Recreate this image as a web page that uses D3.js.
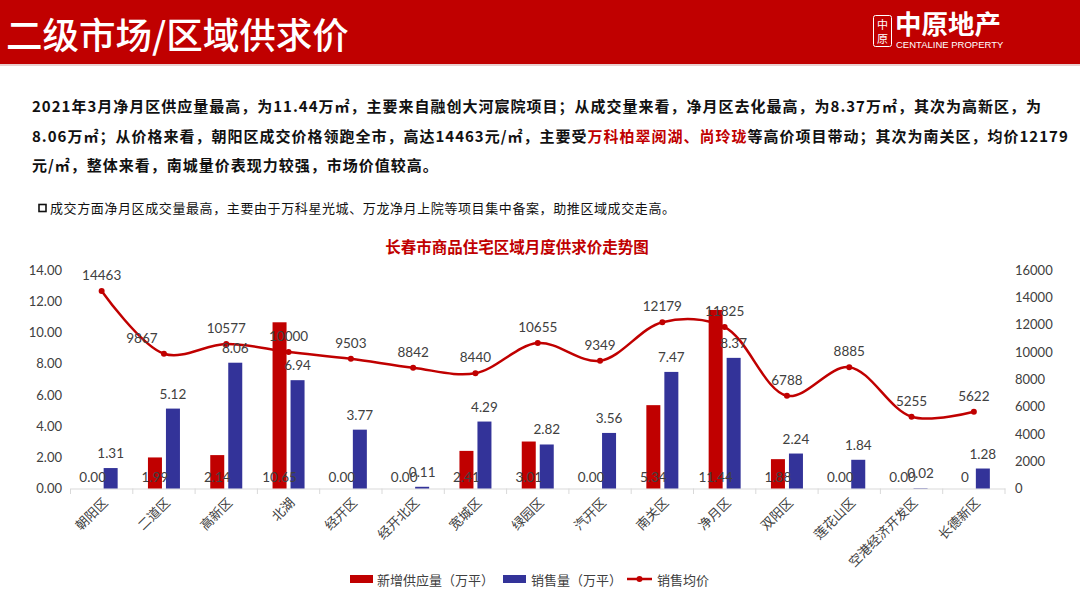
<!DOCTYPE html>
<html><head><meta charset="utf-8">
<script src="https://cdn.jsdelivr.net/npm/d3@7/dist/d3.min.js"></script>
<style>
html,body{margin:0;padding:0;background:#fff;}
svg{display:block;}
</style></head>
<body>
<svg id="c" width="1080" height="608"></svg>
<script>
const categories = ["朝阳区","二道区","高新区","北湖","经开区","经开北区","宽城区","绿园区","汽开区","南关区","净月区","双阳区","莲花山区","空港经济开发区","长德新区"];
const supply = [0, 1.99, 2.14, 10.65, 0, 0, 2.41, 3.01, 0, 5.34, 11.44, 1.88, 0, 0, 0];
const supplyLabels = ["0.00","1.99","2.14","10.65","0.00","0.00","2.41","3.01","0.00","5.34","11.44","1.88","0.00","0.00","0"];
const sales = [1.31, 5.12, 8.06, 6.94, 3.77, 0.11, 4.29, 2.82, 3.56, 7.47, 8.37, 2.24, 1.84, 0.02, 1.28];
const price = [14463, 9867, 10577, 10000, 9503, 8842, 8440, 10655, 9349, 12179, 11825, 6788, 8885, 5255, 5622];
const leftTicks = [0, 2, 4, 6, 8, 10, 12, 14];
const rightTicks = [0, 2000, 4000, 6000, 8000, 10000, 12000, 14000, 16000];
const seriesNames = ["新增供应量（万平）", "销售量（万平）", "销售均价"];

const RED = "#C00000", BLUE = "#333399", TXT = "#404040";
const CJK = "'Noto Sans CJK SC','Noto Sans',sans-serif";
const NUM = "Lato,'Noto Sans',sans-serif";

const svg = d3.select("#c");

// Header
svg.append("rect").attr("x",0).attr("y",0).attr("width",1080).attr("height",64).attr("fill",RED);
svg.append("rect").attr("x",0).attr("y",64).attr("width",1080).attr("height",2).attr("fill","#e8cfcf");
svg.append("text").attr("x",6).attr("y",49).attr("fill","#fff")
  .style("font-family",CJK).style("font-size","36.5px").style("font-weight",500)
  .text("二级市场/区域供求价");
// Logo
svg.append("rect").attr("x",873.5).attr("y",15.5).attr("width",18).attr("height",31).attr("rx",2)
  .attr("fill","none").attr("stroke","#fff").attr("stroke-width",1);
svg.append("text").attr("x",882.5).attr("y",29).attr("text-anchor","middle").attr("fill","#fff")
  .style("font-family",CJK).style("font-size","11px").text("中");
svg.append("text").attr("x",882.5).attr("y",43).attr("text-anchor","middle").attr("fill","#fff")
  .style("font-family",CJK).style("font-size","11px").text("原");
svg.append("text").attr("x",895).attr("y",34).attr("fill","#fff")
  .style("font-family",CJK).style("font-size","26.5px").style("font-weight",700).text("中原地产");
svg.append("text").attr("x",896).attr("y",48).attr("fill","#fff")
  .style("font-family","'Liberation Sans',Arial,sans-serif").style("font-size","9.5px").text("CENTALINE PROPERTY");

// Body text
const body = svg.append("g").style("font-family",CJK).style("font-size","15px").style("font-weight",700)
  .style("letter-spacing","1px").attr("fill","#111");
body.append("text").attr("x",32).attr("y",112)
  .text("2021年3月净月区供应量最高，为11.44万㎡，主要来自融创大河宸院项目；从成交量来看，净月区去化最高，为8.37万㎡，其次为高新区，为");
const l2 = body.append("text").attr("x",32).attr("y",142);
l2.append("tspan").text("8.06万㎡；从价格来看，朝阳区成交价格领跑全市，高达14463元/㎡，主要受");
l2.append("tspan").attr("fill",RED).text("万科柏翠阅湖、尚玲珑");
l2.append("tspan").text("等高价项目带动；其次为南关区，均价12179");
body.append("text").attr("x",32).attr("y",171).text("元/㎡，整体来看，南城量价表现力较强，市场价值较高。");

svg.append("rect").attr("x",39).attr("y",204.5).attr("width",7).attr("height",7)
  .attr("fill","none").attr("stroke","#111").attr("stroke-width",1.6);
svg.append("text").attr("x",50).attr("y",213).attr("fill","#111")
  .style("font-family",CJK).style("font-size","13px").style("letter-spacing","0.6px")
  .text("成交方面净月区成交量最高，主要由于万科星光城、万龙净月上院等项目集中备案，助推区域成交走高。");

// Chart title
svg.append("text").attr("x",517).attr("y",253).attr("text-anchor","middle").attr("fill",RED)
  .style("font-family",CJK).style("font-size","15.5px").style("font-weight",700)
  .text("长春市商品住宅区域月度供求价走势图");

// Scales
const x = d3.scaleBand().domain(categories).range([70.5, 1005]).padding(0);
const yL = d3.scaleLinear().domain([0,14]).range([488.5, 270]);
const yR = d3.scaleLinear().domain([0,16000]).range([488.5, 270]);
const bw = 14, off = 9;
const cx = d => x(d) + x.bandwidth()/2;

// Left axis
const gl = svg.append("g").attr("transform","translate(65,0)")
  .call(d3.axisLeft(yL).tickValues(leftTicks).tickFormat(d3.format(".2f")).tickSize(0).tickPadding(3));
gl.select(".domain").remove();
gl.selectAll("text").style("font-family",NUM).style("font-size","13px").attr("fill",TXT);

// Right axis
const gr = svg.append("g").attr("transform","translate(1010,0)")
  .call(d3.axisRight(yR).tickValues(rightTicks).tickSize(0).tickPadding(5).tickFormat(d3.format("d")));
gr.select(".domain").remove();
gr.selectAll("text").style("font-family",NUM).style("font-size","13px").attr("fill",TXT);

// X axis
const gx = svg.append("g").attr("transform","translate(0,488.5)")
  .call(d3.axisBottom(x).tickSize(0).tickPadding(0));
gx.select(".domain").attr("stroke","#d9d9d9");
gx.selectAll(".tick text")
  .style("font-family",CJK).style("font-size","13px").attr("fill",TXT)
  .attr("text-anchor","end").attr("dy",0)
  .attr("transform","translate(7,15) rotate(-45)");
const bounds = categories.map(d => x(d)).concat([x.range()[1]]);
svg.append("g").selectAll("line").data(bounds).join("line")
  .attr("x1",d=>d).attr("x2",d=>d).attr("y1",488.5).attr("y2",494)
  .attr("stroke","#d9d9d9");

// Bars
svg.append("g").selectAll("rect").data(categories).join("rect")
  .attr("x",(d,i)=>cx(d)-off-bw/2).attr("width",bw)
  .attr("y",(d,i)=>yL(supply[i])).attr("height",(d,i)=>yL(0)-yL(supply[i]))
  .attr("fill",RED);
svg.append("g").selectAll("rect").data(categories).join("rect")
  .attr("x",(d,i)=>cx(d)+off-bw/2).attr("width",bw)
  .attr("y",(d,i)=>yL(sales[i])).attr("height",(d,i)=>yL(0)-yL(sales[i]))
  .attr("fill",BLUE);

// Line
const line = d3.line().x((d,i)=>cx(categories[i])).y(d=>yR(d)).curve(d3.curveCatmullRom.alpha(0.5));
svg.append("path").datum(price).attr("d",line).attr("fill","none").attr("stroke",RED).attr("stroke-width",2.5);
svg.append("g").selectAll("circle").data(price).join("circle")
  .attr("cx",(d,i)=>cx(categories[i])).attr("cy",d=>yR(d)).attr("r",3).attr("fill",RED);

// Labels
const lab = svg.append("g").style("font-family",NUM).style("font-size","13.5px").attr("fill",TXT).attr("text-anchor","middle");
lab.selectAll("text.s").data(supplyLabels).join("text").attr("class","s")
  .attr("x",(d,i)=>cx(categories[i])-off).attr("y",yL(0)-7).text(d=>d);
lab.selectAll("text.b").data(sales).join("text").attr("class","b")
  .attr("x",(d,i)=>cx(categories[i])+off).attr("y",d=>yL(d)-10).text(d=>d3.format(".2f")(d));
lab.selectAll("text.p").data(price).join("text").attr("class","p")
  .attr("x",(d,i)=>cx(categories[i]) + (i===1 ? -22 : 0)).attr("y",d=>yR(d)-11).text(d=>d);

// Legend
const lg = svg.append("g").style("font-family",CJK).style("font-size","13px").attr("fill",TXT);
lg.append("rect").attr("x",350).attr("y",575).attr("width",23).attr("height",8).attr("fill",RED);
lg.append("text").attr("x",377).attr("y",584.5).text(seriesNames[0]);
lg.append("rect").attr("x",503).attr("y",575).attr("width",23).attr("height",8).attr("fill",BLUE);
lg.append("text").attr("x",531).attr("y",584.5).text(seriesNames[1]);
lg.append("line").attr("x1",627).attr("x2",652).attr("y1",579).attr("y2",579).attr("stroke",RED).attr("stroke-width",2.5);
lg.append("circle").attr("cx",639.5).attr("cy",579).attr("r",3).attr("fill",RED);
lg.append("text").attr("x",657).attr("y",584.5).text(seriesNames[2]);
</script>
</body></html>
